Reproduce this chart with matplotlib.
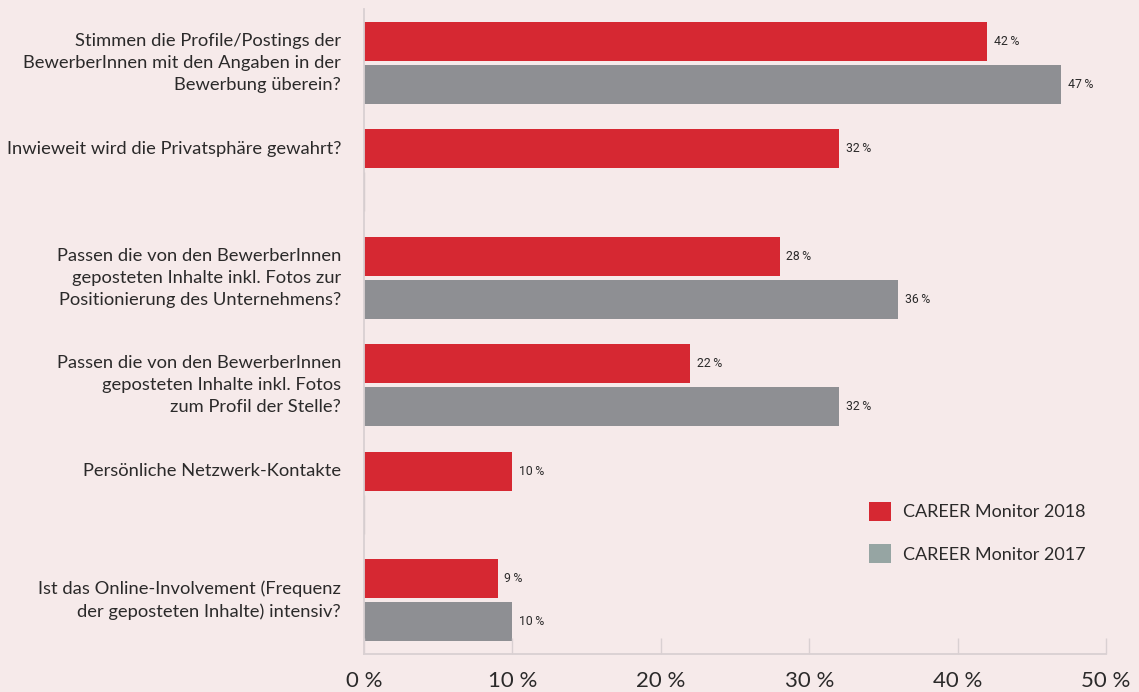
import matplotlib
matplotlib.use("Agg")
import matplotlib.pyplot as plt
from matplotlib.patches import Patch
import numpy as np

# Survey items (top to bottom)
categories = [
    "Stimmen die Profile/Postings der\nBewerberInnen mit den Angaben in der\nBewerbung überein?",
    "Inwieweit wird die Privatsphäre gewahrt?",
    "Passen die von den BewerberInnen\ngeposteten Inhalte inkl. Fotos zur\nPositionierung des Unternehmens?",
    "Passen die von den BewerberInnen\ngeposteten Inhalte inkl. Fotos\nzum Profil der Stelle?",
    "Persönliche Netzwerk-Kontakte",
    "Ist das Online-Involvement (Frequenz\nder geposteten Inhalte) intensiv?",
]
values_2018 = [42, 32, 28, 22, 10, 9]
values_2017 = [47, 0, 36, 32, 0, 10]   # 0 = item not asked in 2017
series_names = ["CAREER Monitor 2018", "CAREER Monitor 2017"]
x_ticks = [0, 10, 20, 30, 40, 50]
x_tick_labels = ["0 %", "10 %", "20 %", "30 %", "40 %", "50 %"]

BG = "#f6eaea"
RED = "#d62832"
GRAY = "#8e8f93"
LEGEND_GRAY = "#96a5a3"
AXIS = "#d9d0d2"
TEXT = "#2b2a2a"
FONT = ["Lato", "DejaVu Sans"]
NARROW = ["Liberation Sans Narrow", "Roboto", "DejaVu Sans"]

plt.rcParams["font.family"] = FONT

fig = plt.figure(figsize=(11.39, 6.92), dpi=100, facecolor=BG)
ax = fig.add_axes([364 / 1139, 1 - 654 / 692, 742 / 1139, 645 / 692])
ax.set_facecolor(BG)

y = np.arange(len(categories))
off = 0.2
h = 0.363

ax.barh(y - off, values_2018, height=h, color=RED, linewidth=0)
for yi, v in zip(y, values_2017):
    if v > 0:
        ax.barh(yi + off, v, height=h, color=GRAY, linewidth=0)
    else:
        ax.barh(yi + off, v, height=h, color=GRAY, edgecolor="#bdb7b9", linewidth=0.9)

pad = 0.45
for yi, v in zip(y, values_2018):
    ax.text(v + pad, yi - off, f"{v}\u2009%", va="center", ha="left",
            fontsize=8.8, color=TEXT, family=NARROW)
for yi, v in zip(y, values_2017):
    if v > 0:
        ax.text(v + pad, yi + off, f"{v}\u2009%", va="center", ha="left",
                fontsize=8.8, color=TEXT, family=NARROW)

# Category labels: centred on the group, or on the single bar when only 2018 exists
for yi, label, v17 in zip(y, categories, values_2017):
    ypos = yi if v17 > 0 else yi - off
    ax.text(-1.55, ypos, label, ha="right", va="center", fontsize=13.25,
            color=TEXT, linespacing=1.47, transform=ax.transData, clip_on=False)

ax.set_xlim(0, 50)
ax.set_ylim(len(categories) - 0.5, -0.5)
ax.set_xticks(x_ticks)
ax.set_xticklabels(x_tick_labels, fontsize=16, color=TEXT)
ax.set_yticks([])
ax.tick_params(axis="x", direction="in", length=11.5, width=1.0, color=AXIS, pad=12.5)

for side in ["top", "right"]:
    ax.spines[side].set_visible(False)
for side in ["left", "bottom"]:
    ax.spines[side].set_color(AXIS)
    ax.spines[side].set_linewidth(1.3)

handles = [Patch(facecolor=RED, edgecolor="none"), Patch(facecolor=LEGEND_GRAY, edgecolor="none")]
leg = fig.legend(handles, series_names, loc="upper left",
                 bbox_to_anchor=(869 / 1139, 1 - 502 / 692), frameon=False,
                 fontsize=13, handlelength=1.22, handleheight=1.22,
                 handletextpad=0.67, labelspacing=1.3, borderpad=0, borderaxespad=0)
for t in leg.get_texts():
    t.set_color(TEXT)

fig.savefig("out.png", dpi=100, facecolor=BG)
